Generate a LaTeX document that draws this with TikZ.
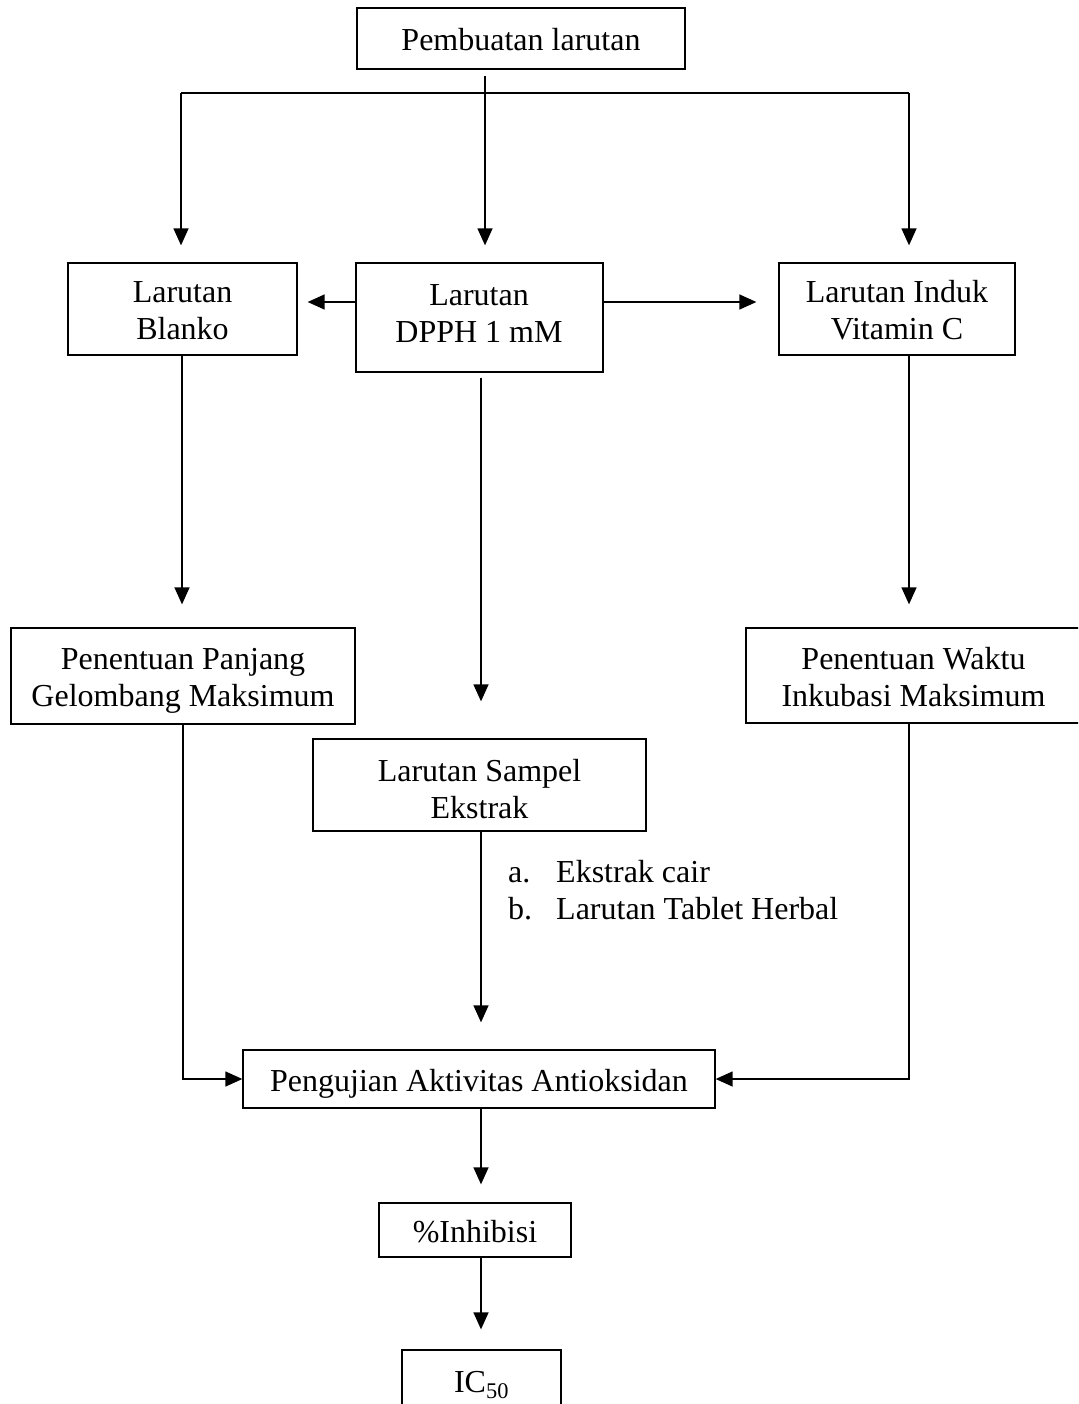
\documentclass[tikz,border=0pt]{standalone}
\usepackage{fontspec}
\setmainfont{Liberation Serif}
\usetikzlibrary{arrows.meta}
\newcommand\fs{\fontsize{32}{37}\selectfont}
\newcommand\mytab[1]{\raisebox{-5pt}[\height][\depth]{\begin{tabular}{@{}c@{}}#1\end{tabular}}}
\tikzset{
  box/.style={draw, line width=1.3pt, inner sep=0pt, align=center, font=\fs},
  txt/.style={inner sep=0pt, align=center, font=\fs},
  ln/.style={line width=1.4pt},
  arr/.style={ln, -{Triangle[length=17pt,width=15pt]}}
}
\begin{document}
\begin{tikzpicture}[x=1pt,y=-1pt]
\useasboundingbox (0,0) rectangle (1078,1404);
\clip (0,0) rectangle (1078,1404);
\fill[white] (0,0) rectangle (1078,1404);
% boxes
\node[box, minimum width=328pt, minimum height=61pt] (top) at (521,38.5) {\mytab{Pembuatan larutan}};
\node[box, minimum width=229pt, minimum height=92pt] (blanko) at (182.5,309) {\mytab{Larutan\\Blanko}};
\node[box, minimum width=247pt, minimum height=109pt] (dpph) at (479.5,317.5) {};
\node[txt] (dpphT) at (479,311.5) {\mytab{Larutan\\DPPH 1 mM}};
\node[box, minimum width=236pt, minimum height=92pt] (vitc) at (897,309) {\mytab{Larutan Induk\\Vitamin C}};
\node[box, minimum width=344pt, minimum height=96pt] (panjang) at (183,676) {\mytab{Penentuan Panjang\\Gelombang Maksimum}};
\node[box, minimum width=335pt, minimum height=95pt] (waktu) at (913.5,675.5) {\mytab{Penentuan Waktu\\Inkubasi Maksimum}};
\node[box, minimum width=333pt, minimum height=92pt] (sampel) at (479.5,785) {};
\node[txt] (sampelT) at (479.5,788) {\mytab{Larutan Sampel\\Ekstrak}};
\node[box, minimum width=472pt, minimum height=58pt] (uji) at (479,1079) {\mytab{Pengujian Aktivitas Antioksidan}};
\node[box, minimum width=192pt, minimum height=54pt] (inh) at (475,1230) {\mytab{\%Inhibisi}};
\node[box, minimum width=159pt, minimum height=60pt] (ic) at (481.5,1380) {\mytab{IC\textsubscript{50}}};
\node[txt, anchor=west] (list) at (508,894) {\begin{tabular}{@{}l@{}}\makebox[48pt][l]{a.}Ekstrak cair\\\makebox[48pt][l]{b.}Larutan Tablet Herbal\end{tabular}};
% helper coordinates
\coordinate (hl) at (181,93);
\coordinate (hm) at (485,93);
\coordinate (hr) at (909,93);
\coordinate (cx) at (481,0);
\coordinate (bx) at (182,0);
% connectors
\draw[ln] (hl) -- (hr);
\draw[arr, shorten >=17pt] (hl) -- (hl |- blanko.north);
\draw[arr, shorten >=17pt] (hr) -- (hr |- vitc.north);
\draw[arr, shorten <=6pt, shorten >=17pt] (hm |- top.south) -- (hm |- dpph.north);
\draw[arr, shorten >=10pt] ([yshift=15.5pt]dpph.west) -- ([yshift=15.5pt]dpph.west -| blanko.east);
\draw[arr, shorten >=22pt] ([yshift=15.5pt]dpph.east) -- ([yshift=15.5pt]dpph.east -| vitc.west);
\draw[arr, shorten >=23pt] (bx |- blanko.south) -- (bx |- panjang.north);
\draw[arr, shorten <=5pt, shorten >=37pt] (cx |- dpph.south) -- (cx |- sampel.north);
\draw[arr, shorten >=23pt] (hr |- vitc.south) -- (hr |- waktu.north);
\draw[arr, shorten >=27pt] (cx |- sampel.south) -- (cx |- uji.north);
\draw[arr] (panjang.south) |- (uji.west);
\draw[arr] (hr |- waktu.south) |- (uji.east);
\draw[arr, shorten >=18pt] (cx |- uji.south) -- (cx |- inh.north);
\draw[arr, shorten >=20pt] (cx |- inh.south) -- (cx |- ic.north);
\end{tikzpicture}
\end{document}
